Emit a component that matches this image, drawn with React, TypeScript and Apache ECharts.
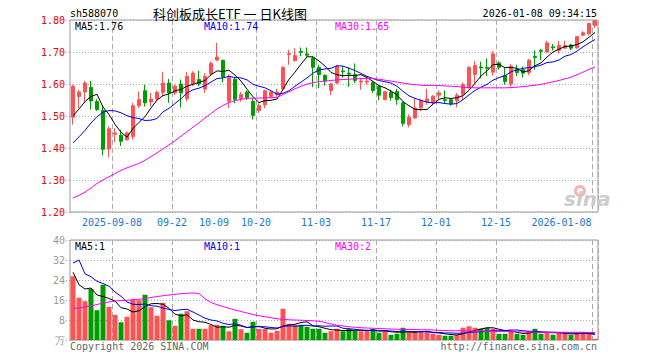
import React, { useEffect, useRef } from 'react';
import * as echarts from 'echarts';

const dates = [
  '2025-08-28','2025-08-29','2025-09-01','2025-09-02','2025-09-03','2025-09-04','2025-09-05','2025-09-08','2025-09-09','2025-09-10',
  '2025-09-11','2025-09-12','2025-09-15','2025-09-16','2025-09-17','2025-09-18','2025-09-19','2025-09-22','2025-09-23','2025-09-24',
  '2025-09-25','2025-09-26','2025-09-29','2025-09-30','2025-10-09','2025-10-10','2025-10-13','2025-10-14','2025-10-15','2025-10-16',
  '2025-10-17','2025-10-20','2025-10-21','2025-10-22','2025-10-23','2025-10-24','2025-10-27','2025-10-28','2025-10-29','2025-10-30',
  '2025-10-31','2025-11-03','2025-11-04','2025-11-05','2025-11-06','2025-11-07','2025-11-10','2025-11-11','2025-11-12','2025-11-13',
  '2025-11-14','2025-11-17','2025-11-18','2025-11-19','2025-11-20','2025-11-21','2025-11-24','2025-11-25','2025-11-26','2025-11-27',
  '2025-11-28','2025-12-01','2025-12-02','2025-12-03','2025-12-04','2025-12-05','2025-12-08','2025-12-09','2025-12-10','2025-12-11',
  '2025-12-12','2025-12-15','2025-12-16','2025-12-17','2025-12-18','2025-12-19','2025-12-22','2025-12-23','2025-12-24','2025-12-25',
  '2025-12-26','2025-12-29','2025-12-30','2025-12-31','2026-01-05','2026-01-06','2026-01-07','2026-01-08'
];

const opens = [
  1.496,1.561,1.575,1.589,1.545,1.517,1.397,1.443,1.440,1.426,
  1.436,1.532,1.579,1.544,1.553,1.574,1.603,1.572,1.600,1.554,
  1.600,1.614,1.584,1.632,1.675,1.674,1.546,1.615,1.555,1.575,
  1.546,1.517,1.535,1.561,1.567,1.585,1.692,1.673,1.702,1.694,
  1.681,1.652,1.627,1.580,1.603,1.641,1.634,1.629,1.606,1.606,
  1.605,1.593,1.551,1.574,1.577,1.541,1.473,1.494,1.526,1.545,
  1.544,1.565,1.551,1.551,1.547,1.568,1.591,1.630,1.653,1.652,
  1.637,1.666,1.627,1.600,1.645,1.645,1.636,1.686,1.705,1.700,
  1.716,1.705,1.712,1.722,1.713,1.753,1.757,1.783
];
const closes = [
  1.593,1.575,1.603,1.547,1.520,1.396,1.460,1.447,1.421,1.447,
  1.532,1.551,1.541,1.553,1.574,1.603,1.572,1.593,1.572,1.624,
  1.634,1.600,1.624,1.664,1.684,1.622,1.620,1.552,1.567,1.558,
  1.502,1.533,1.579,1.575,1.575,1.652,1.695,1.689,1.699,1.690,
  1.652,1.629,1.610,1.600,1.655,1.638,1.631,1.611,1.609,1.609,
  1.580,1.565,1.576,1.558,1.551,1.477,1.496,1.525,1.549,1.553,
  1.562,1.572,1.548,1.538,1.565,1.598,1.652,1.658,1.650,1.649,
  1.694,1.652,1.608,1.656,1.636,1.634,1.674,1.683,1.702,1.728,
  1.713,1.720,1.720,1.712,1.748,1.760,1.789,1.798
];
const lows = [
  1.473,1.524,1.541,1.520,1.516,1.377,1.371,1.418,1.406,1.423,
  1.426,1.525,1.530,1.530,1.546,1.561,1.541,1.565,1.527,1.546,
  1.593,1.593,1.572,1.625,1.672,1.605,1.525,1.540,1.545,1.550,
  1.489,1.509,1.524,1.555,1.560,1.580,1.660,1.670,1.687,1.681,
  1.590,1.587,1.595,1.565,1.600,1.619,1.591,1.603,1.582,1.598,
  1.572,1.550,1.550,1.548,1.535,1.468,1.465,1.491,1.515,1.535,
  1.537,1.552,1.540,1.532,1.527,1.550,1.585,1.600,1.618,1.625,
  1.626,1.645,1.598,1.592,1.625,1.620,1.628,1.645,1.675,1.698,
  1.705,1.695,1.710,1.705,1.710,1.749,1.752,1.775
];
const highs = [
  1.598,1.582,1.610,1.610,1.552,1.531,1.468,1.462,1.457,1.452,
  1.541,1.577,1.598,1.572,1.580,1.638,1.616,1.598,1.614,1.638,
  1.640,1.642,1.634,1.670,1.729,1.676,1.630,1.620,1.575,1.580,
  1.556,1.540,1.582,1.582,1.585,1.655,1.707,1.712,1.714,1.714,
  1.685,1.660,1.630,1.603,1.660,1.655,1.653,1.664,1.619,1.624,
  1.608,1.596,1.578,1.582,1.585,1.545,1.505,1.555,1.552,1.585,
  1.565,1.580,1.580,1.555,1.572,1.605,1.655,1.672,1.670,1.680,
  1.702,1.671,1.650,1.662,1.660,1.655,1.678,1.705,1.710,1.735,
  1.725,1.735,1.735,1.726,1.750,1.765,1.792,1.800
];

const ma5 = [
  1.500,1.522,1.545,1.561,1.568,1.528,1.505,1.474,1.449,1.434,
  1.461,1.480,1.498,1.525,1.550,1.564,1.569,1.579,1.583,1.593,
  1.599,1.605,1.611,1.629,1.641,1.639,1.643,1.628,1.609,1.584,
  1.560,1.542,1.548,1.549,1.553,1.583,1.615,1.637,1.662,1.685,
  1.685,1.672,1.656,1.636,1.629,1.626,1.627,1.627,1.629,1.620,
  1.608,1.595,1.588,1.578,1.566,1.545,1.532,1.521,1.520,1.520,
  1.537,1.552,1.557,1.555,1.557,1.564,1.580,1.602,1.625,1.641,
  1.661,1.661,1.651,1.652,1.649,1.637,1.642,1.657,1.666,1.684,
  1.700,1.709,1.717,1.719,1.723,1.732,1.746,1.761
];
const ma10 = [
  1.416,1.435,1.455,1.478,1.498,1.512,1.517,1.516,1.510,1.501,
  1.495,1.492,1.486,1.487,1.492,1.513,1.524,1.539,1.554,1.572,
  1.582,1.587,1.595,1.606,1.617,1.619,1.624,1.620,1.619,1.613,
  1.599,1.593,1.588,1.579,1.568,1.571,1.579,1.593,1.606,1.619,
  1.634,1.644,1.647,1.649,1.657,1.656,1.649,1.642,1.633,1.624,
  1.617,1.611,1.607,1.603,1.593,1.577,1.563,1.555,1.549,1.543,
  1.541,1.542,1.539,1.537,1.539,1.551,1.566,1.580,1.590,1.599,
  1.612,1.620,1.626,1.638,1.645,1.649,1.651,1.654,1.659,1.667,
  1.669,1.675,1.687,1.692,1.703,1.716,1.728,1.739
];
const ma30 = [
  1.244,1.252,1.262,1.275,1.289,1.300,1.310,1.320,1.330,1.338,
  1.345,1.352,1.362,1.373,1.385,1.397,1.410,1.423,1.437,1.451,
  1.465,1.479,1.494,1.508,1.522,1.533,1.542,1.548,1.552,1.555,
  1.556,1.556,1.557,1.557,1.558,1.567,1.576,1.585,1.593,1.600,
  1.604,1.607,1.609,1.611,1.613,1.614,1.615,1.616,1.617,1.618,
  1.617,1.615,1.612,1.609,1.606,1.603,1.600,1.598,1.596,1.595,
  1.596,1.595,1.594,1.593,1.592,1.590,1.589,1.588,1.588,1.588,
  1.588,1.588,1.588,1.589,1.590,1.592,1.594,1.596,1.599,1.603,
  1.607,1.611,1.616,1.621,1.629,1.637,1.646,1.653
];

const volumes = [
  25.5,16.9,15.5,20.4,11.9,22.1,13.3,10.1,7.1,9.3,
  16.1,15.9,18.1,13.1,9.7,14.9,7.9,5.7,10.5,11.5,
  4.5,4.5,4.5,5.9,6.1,5.7,3.5,8.5,4.3,2.9,
  7.3,4.4,4.4,2.9,3.7,12.5,6.5,6.1,6.1,5.3,
  4.5,4.5,2.9,3.5,4.5,3.5,4.5,3.7,3.5,3.5,
  4.5,2.9,3.5,2.1,2.5,4.9,3.1,3.1,3.1,3.1,
  2.5,2.1,1.7,1.7,2.1,4.9,5.5,4.9,4.5,4.9,
  4.5,2.5,2.5,3.5,2.5,2.1,3.5,4.5,2.5,2.9,
  2.1,2.9,2.5,2.1,2.9,2.9,2.5,0.5
];
const volMa5 = [
  27.1,22.1,20.4,20.8,18.0,17.4,16.6,15.6,12.9,12.4,
  11.2,11.7,13.3,14.5,14.6,14.3,12.7,10.3,9.7,10.1,
  8.0,7.3,7.1,6.2,5.1,5.3,5.1,5.9,5.6,5.0,
  5.3,5.5,4.7,4.4,4.5,5.6,6.0,6.3,7.0,7.3,
  5.7,5.3,4.7,4.1,4.0,3.8,3.8,3.9,3.9,3.7,
  3.9,3.6,3.6,3.3,3.1,3.2,3.2,3.1,3.3,3.5,
  3.0,2.8,2.5,2.2,2.0,2.5,3.2,3.8,4.4,4.9,
  4.9,4.3,3.8,3.6,3.1,2.6,2.8,3.2,3.0,3.1,
  3.1,3.0,2.6,2.5,2.5,2.7,2.6,2.2
];
const volMa10 = [
  30.8,32.0,26.5,25.3,23.5,22.6,21.5,19.2,17.5,15.2,
  14.3,14.2,14.4,13.7,13.5,12.8,12.2,11.8,12.1,12.3,
  11.2,10.0,8.7,8.0,7.6,6.7,6.2,6.5,5.9,5.0,
  5.3,5.3,5.3,5.0,4.8,5.4,5.7,5.5,5.7,5.9,
  5.6,5.7,5.5,5.6,5.6,4.7,4.5,4.3,4.0,3.9,
  3.9,3.7,3.8,3.6,3.4,3.6,3.4,3.4,3.3,3.3,
  3.1,3.0,2.8,2.8,2.7,2.7,3.0,3.2,3.3,3.5,
  3.7,3.7,3.8,4.0,4.0,3.7,3.5,3.5,3.3,3.1,
  2.9,2.9,2.9,2.8,2.8,2.9,2.8,2.4
];
const volMa30 = [
  12.5,12.8,13.2,13.6,14.2,14.8,15.2,15.6,15.8,15.9,
  16.1,16.3,16.6,17.0,17.4,17.7,18.0,18.3,18.5,18.7,
  18.8,18.6,16.5,15.0,14.1,13.4,12.7,12.0,11.4,10.8,
  10.2,9.7,9.3,8.9,8.5,8.3,8.1,8.0,7.9,7.8,
  7.7,7.5,7.0,6.4,5.9,5.6,5.3,5.1,4.9,4.8,
  4.7,4.6,4.5,4.4,4.3,4.3,4.2,4.2,4.1,4.1,
  4.0,3.9,3.8,3.7,3.7,3.7,3.6,3.6,3.6,3.5,
  3.5,3.4,3.4,3.3,3.3,3.2,3.2,3.1,3.1,3.1,
  3.1,3.1,3.1,3.1,3.1,3.1,3.0,3.0
];

const labelDates = ['2025-09-08','2025-09-22','2025-10-09','2025-10-20','2025-11-03','2025-11-17','2025-12-01','2025-12-15','2026-01-08'];
const labelTexts = ['2025-09-08','09-22','10-09','10-20','11-03','11-17','12-01','12-15','2026-01-08'];
const lineDates = ['2025-09-08','2025-09-22','2025-10-20','2025-11-03','2025-11-17','2025-12-01','2025-12-15','2026-01-08'];

const priceTicks = [1.2, 1.8, 0.1];
const volTicks = [0, 40, 8];

const headerLeft = 'sh588070';
const headerTitle = '科创板成长ETF 一 日K线图';
const headerTime = '2026-01-08 09:34:15';
const priceLegend = ['MA5:1.76', 'MA10:1.74', 'MA30:1.65'];
const volLegend = ['MA5:1', 'MA10:1', 'MA30:2'];
const volUnit = '万';
const footLeft = 'Copyright 2026 SINA.COM';
const footRight = 'http://finance.sina.com.cn';

const UP = '#ff5252';
const DOWN = '#009c00';
const MONO = '"DejaVu Sans Mono", monospace';
const MA_COLORS = ['#000000', '#0000ee', '#ff00ff'];

export default function App() {
  const ref = useRef<HTMLDivElement>(null);
  useEffect(() => {
    if (!ref.current) return;
    const chart = echarts.init(ref.current, undefined, { renderer: 'svg' });
    const up = closes.map((c, i) => c >= opens[i]);
    const dashed = { color: '#aaaaaa', type: [5, 3] as any, width: 1 };
    const dotted = { color: '#aaaaaa', type: [1, 2] as any, width: 1 };
    const lineInterval = (_i: number, v: string) => lineDates.indexOf(v) >= 0;
    const labelStyle = { fontFamily: MONO, fontSize: 10, color: '#1a78c8' };
    const maLine = (name: string, data: number[], color: string, xi: number) => ({
      name, type: 'line', data, xAxisIndex: xi, yAxisIndex: xi, showSymbol: false, symbol: 'none',
      lineStyle: { color, width: 1 }, itemStyle: { color }, silent: true, z: 5,
    });
    const txt = (text: string, x: number, y: number, fill: string, align = 'left', size = 10, family = MONO) => ({
      type: 'text', x, y, silent: true, z: 100,
      style: { text, fill, fontSize: size, fontFamily: family, textAlign: align, textVerticalAlign: 'middle' },
    });
    const option: any = {
      animation: false,
      backgroundColor: '#ffffff',
      grid: [
        { left: 70, top: 20, width: 528, height: 192, show: true, borderColor: '#999999', borderWidth: 1 },
        { left: 70, top: 240, width: 528, height: 100, show: true, borderColor: '#999999', borderWidth: 1 },
      ],
      xAxis: [
        {
          type: 'category', gridIndex: 0, data: dates, boundaryGap: true,
          axisLine: { show: false }, axisTick: { show: false },
          axisLabel: {
            show: true, margin: 5,
            interval: (_i: number, v: string) => labelDates.indexOf(v) >= 0,
            formatter: (v: string) => {
              const j = labelDates.indexOf(v);
              return j === labelDates.length - 1 ? '{e|' + labelTexts[j] + '}' : '{n|' + labelTexts[j] + '}';
            },
            rich: {
              n: { ...labelStyle, padding: [0, 6, 0, 0] },
              e: { ...labelStyle, padding: [0, 67, 0, 0] },
            },
          },
          splitLine: { show: true, interval: lineInterval, lineStyle: dashed },
        },
        {
          type: 'category', gridIndex: 1, data: dates, boundaryGap: true,
          axisLine: { show: false }, axisTick: { show: false }, axisLabel: { show: false },
          splitLine: { show: true, interval: lineInterval, lineStyle: dashed },
        },
      ],
      yAxis: [
        {
          type: 'value', gridIndex: 0, min: priceTicks[0], max: priceTicks[1], interval: priceTicks[2],
          axisLine: { show: false },
          axisTick: { show: true, length: 4, lineStyle: dotted },
          axisLabel: { color: '#ee0000', fontFamily: MONO, fontSize: 10, margin: 5, formatter: (v: number) => v.toFixed(2) },
          splitLine: { show: true, lineStyle: dotted },
        },
        {
          type: 'value', gridIndex: 1, min: volTicks[0], max: volTicks[1], interval: volTicks[2],
          axisLine: { show: false },
          axisTick: { show: true, length: 4, lineStyle: dotted },
          axisLabel: { color: '#999999', fontFamily: MONO, fontSize: 10, margin: 5, formatter: (v: number) => (v === 0 ? volUnit : String(v)) },
          splitLine: { show: true, lineStyle: dotted },
        },
      ],
      series: [
        {
          type: 'candlestick', xAxisIndex: 0, yAxisIndex: 0, barWidth: 4, silent: true,
          data: opens.map((o, i) => [o, closes[i], lows[i], highs[i]]),
          itemStyle: { color: UP, color0: DOWN, borderColor: UP, borderColor0: DOWN, borderWidth: 1 },
        },
        maLine('MA5', ma5, MA_COLORS[0], 0),
        maLine('MA10', ma10, MA_COLORS[1], 0),
        maLine('MA30', ma30, MA_COLORS[2], 0),
        {
          type: 'bar', xAxisIndex: 1, yAxisIndex: 1, barWidth: 5, silent: true,
          data: volumes.map((v, i) => ({ value: v, itemStyle: { color: up[i] ? UP : DOWN } })),
        },
        maLine('VMA5', volMa5, MA_COLORS[0], 1),
        maLine('VMA10', volMa10, MA_COLORS[1], 1),
        maLine('VMA30', volMa30, MA_COLORS[2], 1),
      ],
      graphic: [
        txt(headerLeft, 70, 13, '#000000'),
        txt(headerTitle, 230, 13, '#000000', 'center', 13, '"Noto Sans CJK SC", sans-serif'),
        txt(headerTime, 597, 13, '#000000', 'right'),
        txt(priceLegend[0], 75, 26.5, MA_COLORS[0]),
        txt(priceLegend[1], 204, 26.5, MA_COLORS[1]),
        txt(priceLegend[2], 335, 26.5, MA_COLORS[2]),
        txt(volLegend[0], 75, 246.5, MA_COLORS[0]),
        txt(volLegend[1], 204, 246.5, MA_COLORS[1]),
        txt(volLegend[2], 335, 246.5, MA_COLORS[2]),
        txt(footLeft, 70, 346.5, '#666666'),
        txt(footRight, 597, 346.5, '#666666', 'right'),
        {
          type: 'ring', silent: true, z: 1,
          shape: { cx: 580, cy: 191, r: 6, r0: 3 },
          style: { fill: '#f2b4b4' },
        },
        {
          type: 'text', x: 564, y: 199, silent: true, z: 1,
          style: { text: 'sina', fill: '#cccccc', fontSize: 20, fontWeight: 'bold', fontStyle: 'italic', fontFamily: '"DejaVu Sans", sans-serif', textAlign: 'left', textVerticalAlign: 'middle' },
        },
      ],
    };
    chart.setOption(option);
    return () => chart.dispose();
  }, []);
  return <div ref={ref} style={{ position: 'fixed', left: 0, top: 0, width: 660, height: 360, background: '#ffffff' }} />;
}
